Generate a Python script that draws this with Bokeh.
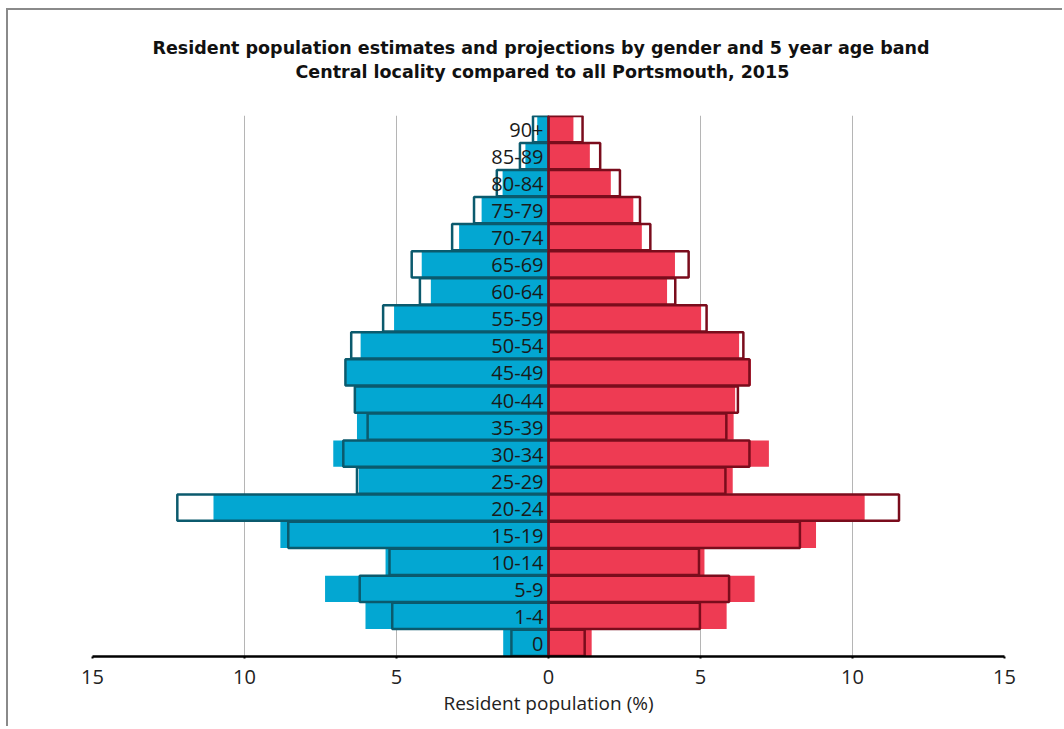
from bokeh.plotting import figure
from bokeh.models import ColumnDataSource, Range1d, FactorRange, FixedTicker, Title
from bokeh.core.properties import value
from bokeh.embed import file_html
from bokeh.resources import INLINE

ages = ["0", "1-4", "5-9", "10-14", "15-19", "20-24", "25-29", "30-34", "35-39",
        "40-44", "45-49", "50-54", "55-59", "60-64", "65-69", "70-74", "75-79",
        "80-84", "85-89", "90+"]

male_fill = [1.49, 6.02, 7.35, 5.36, 8.82, 11.02, 6.24, 7.08, 6.30, 6.36, 6.66,
             6.18, 5.08, 3.87, 4.17, 2.94, 2.20, 1.51, 0.76, 0.37]
male_outline = [1.22, 5.14, 6.21, 5.23, 8.56, 12.21, 6.30, 6.75, 5.95, 6.37, 6.68,
                6.49, 5.44, 4.23, 4.50, 3.17, 2.45, 1.70, 0.94, 0.51]
female_fill = [1.42, 5.86, 6.78, 5.13, 8.80, 10.40, 6.06, 7.25, 6.09, 6.14, 6.66,
               6.27, 5.02, 3.90, 4.16, 3.07, 2.79, 2.05, 1.36, 0.82]
female_outline = [1.19, 4.98, 5.94, 4.95, 8.27, 11.53, 5.82, 6.61, 5.85, 6.23, 6.61,
                  6.41, 5.20, 4.17, 4.61, 3.35, 3.01, 2.35, 1.70, 1.12]

tick_values = [-15, -10, -5, 0, 5, 10, 15]
tick_labels = ["15", "10", "5", "0", "5", "10", "15"]

title_lines = ["Resident population estimates and projections by gender and 5 year age band",
               "Central locality compared to all Portsmouth, 2015"]

src = ColumnDataSource(dict(
    age=ages,
    mf=[-v for v in male_fill],
    mo=[-v for v in male_outline],
    ff=female_fill,
    fo=female_outline,
    zero=[0] * len(ages),
))

FONT = "Open Sans"

p = figure(width=1056, height=718, output_backend="svg", toolbar_location=None,
           x_range=Range1d(-15, 15), y_range=FactorRange(factors=ages, range_padding=0),
           min_border_left=84, min_border_right=60, min_border_top=105,
           min_border_bottom=72, title=None)
p.styles = {"margin-left": "6px", "margin-top": "8px",
            "border-top": "2px solid #8a8a8a", "border-left": "2px solid #8a8a8a"}

# second line first (closest to the frame), then first line above it
p.add_layout(Title(text=title_lines[1], align="left", offset=203,
                   text_font="DejaVu Sans", text_font_style="bold",
                   text_font_size="17.5px", text_color="#111111",
                   standoff=68), "above")
p.add_layout(Title(text=title_lines[0], align="left", offset=60,
                   text_font="DejaVu Sans", text_font_style="bold",
                   text_font_size="17.5px", text_color="#111111",
                   standoff=-65), "above")

p.outline_line_color = None
p.background_fill_color = "white"
p.border_fill_color = "white"

# filled bars
p.hbar(y="age", left="mf", right="zero", height=0.97, source=src,
       fill_color="#03a7d2", line_color=None)
p.hbar(y="age", left="zero", right="ff", height=0.97, source=src,
       fill_color="#ee3b53", line_color=None)
# outline bars
p.hbar(y="age", left="mo", right="zero", height=0.97, source=src,
       fill_alpha=0, line_color="#0b5a6d", line_width=2.5)
p.hbar(y="age", left="zero", right="fo", height=0.97, source=src,
       fill_alpha=0, line_color="#7a0c1c", line_width=2.5)

# age labels
p.text(x="zero", y="age", text="age", source=src, x_offset=-5, y_offset=1,
       text_align="right", text_baseline="middle", text_font=value(FONT),
       text_font_size="20px", text_color="#1a1a1a")

p.yaxis.visible = False
p.ygrid.grid_line_color = None
p.xgrid.grid_line_color = "#b5b5b5"
p.xgrid.grid_line_width = 1

p.xaxis.ticker = FixedTicker(ticks=tick_values)
p.xaxis.major_label_overrides = {v: l for v, l in zip(tick_values, tick_labels)}
p.xaxis.minor_tick_line_color = None
p.xaxis.axis_line_color = "black"
p.xaxis.axis_line_width = 2.5
p.xaxis.major_tick_line_color = "black"
p.xaxis.major_tick_line_width = 2
p.xaxis.major_tick_in = 0
p.xaxis.major_tick_out = 2
p.xaxis.major_label_standoff = 11
p.xaxis.major_label_text_font = FONT
p.xaxis.major_label_text_font_size = "20px"
p.xaxis.major_label_text_color = "#222222"
p.xaxis.axis_label = "Resident population (%)"
p.xaxis.axis_label_text_font = FONT
p.xaxis.axis_label_text_font_size = "19px"
p.xaxis.axis_label_text_font_style = "normal"
p.xaxis.axis_label_text_color = "#222222"
p.xaxis.axis_label_standoff = 3

open("out.html", "w").write(file_html(p, INLINE))
